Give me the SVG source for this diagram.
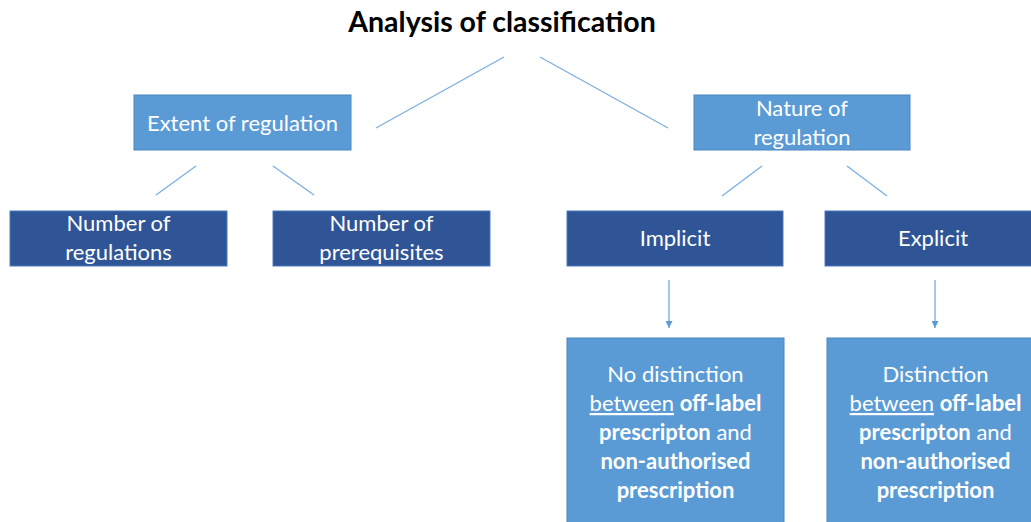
<svg xmlns="http://www.w3.org/2000/svg" width="1031" height="522" viewBox="0 0 1031 522">
<defs>
<style>
.t{font-family:Lato,"Open Sans","Liberation Sans",sans-serif;fill:#fff;font-size:22px;text-anchor:middle}
.b{font-weight:bold}
.lt{fill:#5B9BD5;stroke:#4A86C0;stroke-width:1}
.dk{fill:#2F5597;stroke:#4A7BC0;stroke-width:1}
.c{stroke:#7EB0E0;stroke-width:1.4;fill:none}
</style>
<marker id="ah" viewBox="0 0 10 10" refX="10" refY="5" markerWidth="7" markerHeight="7" markerUnits="userSpaceOnUse" orient="auto">
<path d="M0,0 L10,5 L0,10 z" fill="#5B9BD5"/>
</marker>
</defs>
<rect width="1031" height="522" fill="#fff"/>
<text x="502" y="32" font-family="Lato,'Open Sans','Liberation Sans',sans-serif" font-size="28.5" font-weight="bold" text-anchor="middle" fill="#000">Analysis of classification</text>
<g id="connectors">
<line class="c" x1="504" y1="57" x2="376" y2="128"/>
<line class="c" x1="540" y1="57" x2="668" y2="128"/>
<line class="c" x1="196" y1="166" x2="156" y2="195"/>
<line class="c" x1="273" y1="166" x2="314" y2="195"/>
<line class="c" x1="762" y1="166" x2="722" y2="196"/>
<line class="c" x1="847" y1="166" x2="887" y2="196"/>
<line class="c" x1="669" y1="280" x2="669" y2="328" marker-end="url(#ah)"/>
<line class="c" x1="935" y1="280" x2="935" y2="328" marker-end="url(#ah)"/>
</g>
<g id="extent">
<rect class="lt" x="134" y="95" width="217" height="55"/>
<text class="t" x="242.5" y="131">Extent of regulation</text>
</g>
<g id="nature">
<rect class="lt" x="694" y="95" width="216" height="55"/>
<text class="t" x="802" y="116">Nature of</text>
<text class="t" x="802" y="145">regulation</text>
</g>
<g id="num-regulations">
<rect class="dk" x="10" y="211" width="217" height="55"/>
<text class="t" x="118.5" y="231">Number of</text>
<text class="t" x="118.5" y="260">regulations</text>
</g>
<g id="num-prerequisites">
<rect class="dk" x="273" y="211" width="217" height="55"/>
<text class="t" x="381.5" y="231">Number of</text>
<text class="t" x="381.5" y="260">prerequisites</text>
</g>
<g id="implicit">
<rect class="dk" x="567" y="211" width="216" height="55"/>
<text class="t" x="675" y="246">Implicit</text>
</g>
<g id="explicit">
<rect class="dk" x="825" y="211" width="216" height="55"/>
<text class="t" x="933" y="246">Explicit</text>
</g>
<g id="no-distinction">
<rect class="lt" x="567" y="338" width="217" height="200"/>
<text class="t" x="675.5" y="382">No distinction</text>
<text class="t" x="675.5" y="411"><tspan text-decoration="underline">between</tspan> <tspan class="b">off-label</tspan></text>
<text class="t" x="675.5" y="440"><tspan class="b">prescripton</tspan> and</text>
<text class="t b" x="675.5" y="469">non-authorised</text>
<text class="t b" x="675.5" y="498">prescription</text>
</g>
<g id="distinction">
<rect class="lt" x="827" y="338" width="217" height="200"/>
<text class="t" x="935.5" y="382">Distinction</text>
<text class="t" x="935.5" y="411"><tspan text-decoration="underline">between</tspan> <tspan class="b">off-label</tspan></text>
<text class="t" x="935.5" y="440"><tspan class="b">prescripton</tspan> and</text>
<text class="t b" x="935.5" y="469">non-authorised</text>
<text class="t b" x="935.5" y="498">prescription</text>
</g>
</svg>
